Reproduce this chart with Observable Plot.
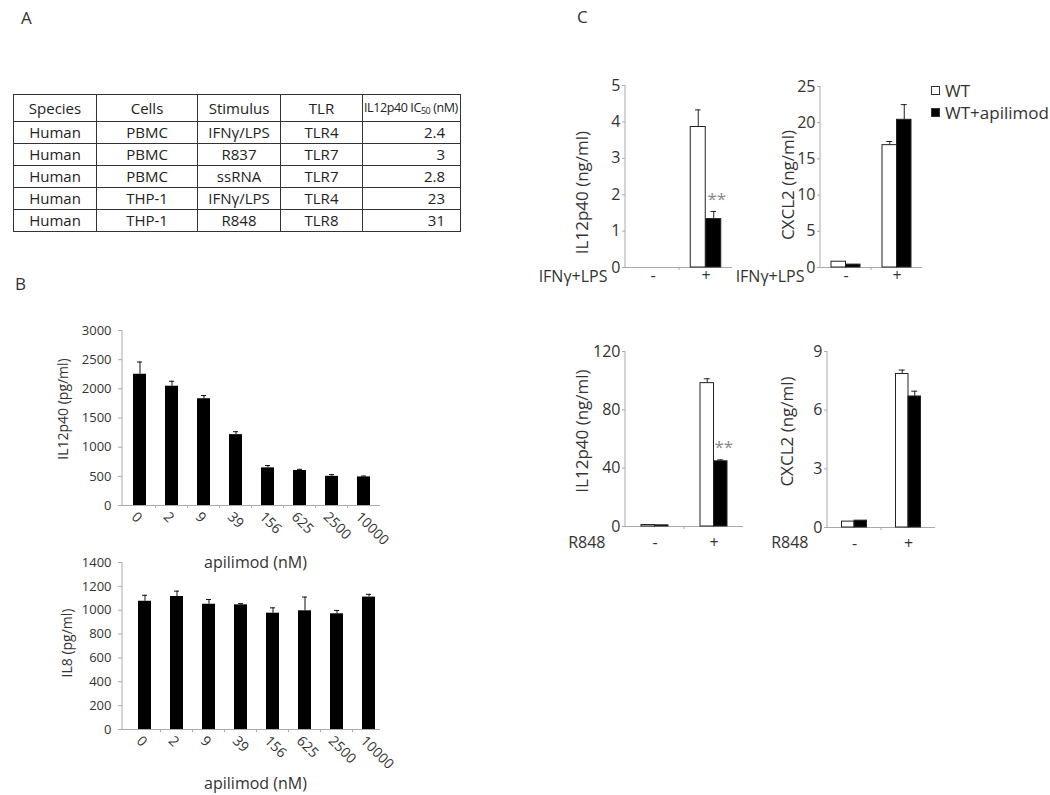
<!DOCTYPE html>
<html><head><meta charset="utf-8">
<script src="https://cdn.jsdelivr.net/npm/d3@7"></script>
<script src="https://cdn.jsdelivr.net/npm/@observablehq/plot@0.6"></script>
<style>
body{margin:0;background:#fff;}
#fig{position:relative;width:1050px;height:795px;font-family:"Open Sans",sans-serif;color:#333;overflow:hidden;background:#fff;}
.abs{position:absolute;}
.letter{font-size:17px;color:#333;line-height:1;}
#tbl{border-collapse:collapse;table-layout:fixed;font-size:15px;color:#222;}
#tbl td{border:1.5px solid #333;padding:0;text-align:center;line-height:1;white-space:nowrap;overflow:hidden;}
#tbl td.num{text-align:right;padding-right:15px;}
#tbl td.hdr{font-size:12.5px;letter-spacing:-0.4px;text-align:left;padding-left:1px;}
#tbl sub{font-size:9px;vertical-align:-2px;}
.leg{font-size:17px;color:#333;line-height:22px;white-space:nowrap;}
.sw{display:inline-block;width:7px;height:7px;border:1px solid #333;margin-right:5px;vertical-align:2px;}
</style></head><body><div id="fig"></div>
<script>
// ---------- Panel A table ----------
const tableHeader = ["Species", "Cells", "Stimulus", "TLR", "IL12p40 IC50 (nM)"];
const species = ["Human", "Human", "Human", "Human", "Human"];
const cells = ["PBMC", "PBMC", "PBMC", "THP-1", "THP-1"];
const stimulus = ["IFNγ/LPS", "R837", "ssRNA", "IFNγ/LPS", "R848"];
const tlr = ["TLR4", "TLR7", "TLR7", "TLR4", "TLR8"];
const ic50 = [2.4, 3, 2.8, 23, 31];

// ---------- Panel B ----------
const doses = ["0", "2", "9", "39", "156", "625", "2500", "10000"];
const il12Mean = [2250, 2045, 1830, 1215, 645, 600, 500, 490];
const il12Err = [210, 85, 55, 50, 40, 20, 30, 15];
const il8Mean = [1075, 1115, 1050, 1045, 975, 995, 970, 1110];
const il8Err = [50, 45, 40, 10, 45, 115, 28, 23];
const il12Ticks = [0, 500, 1000, 1500, 2000, 2500, 3000];
const il8Ticks = [0, 200, 400, 600, 800, 1000, 1200, 1400];
const doseTitle = "apilimod (nM)";

// ---------- Panel C ----------
const groups = ["-", "+"];
const series = ["WT", "WT+apilimod"];
// IFNγ+LPS — IL12p40 (ng/ml)
const lpsIl12WT = [0, 3.86], lpsIl12WTErr = [0, 0.47];
const lpsIl12Api = [0, 1.33], lpsIl12ApiErr = [0, 0.21];
const lpsIl12Sig = ["", "**"];
// IFNγ+LPS — CXCL2 (ng/ml)
const lpsCxWT = [0.8, 16.9], lpsCxWTErr = [0, 0.5];
const lpsCxApi = [0.4, 20.4], lpsCxApiErr = [0, 2.1];
const lpsCxSig = ["", ""];
// R848 — IL12p40 (ng/ml)
const rIl12WT = [1.0, 98.3], rIl12WTErr = [0, 3];
const rIl12Api = [0.8, 44.7], rIl12ApiErr = [0, 1];
const rIl12Sig = ["", "**"];
// R848 — CXCL2 (ng/ml)
const rCxWT = [0.3, 7.85], rCxWTErr = [0, 0.2];
const rCxApi = [0.35, 6.7], rCxApiErr = [0, 0.27];
const rCxSig = ["", ""];

const FONT = '"Open Sans", sans-serif';
const AXIS = "#aaa";
const NS = "http://www.w3.org/2000/svg";
const fmt = d => String(d);
const fig = document.getElementById("fig");

function place(node, left, top) {
  const d = document.createElement("div");
  d.className = "abs";
  d.style.left = left + "px";
  d.style.top = top + "px";
  d.appendChild(node);
  fig.appendChild(d);
  return d;
}

// panel letters
[["A", 21, 9], ["B", 15, 275], ["C", 577, 8]].forEach(([t, l, tp]) => {
  const s = document.createElement("div");
  s.className = "letter";
  s.textContent = t;
  place(s, l, tp);
});

// table
(function () {
  const t = document.createElement("table");
  t.id = "tbl";
  const widths = [83, 101, 83, 82, 98];
  const cg = document.createElement("colgroup");
  widths.forEach(w => { const c = document.createElement("col"); c.style.width = w + "px"; cg.appendChild(c); });
  t.appendChild(cg);
  t.style.width = widths.reduce((a, b) => a + b, 0) + "px";
  const hr = document.createElement("tr");
  hr.style.height = "27px";
  tableHeader.forEach((h, i) => {
    const td = document.createElement("td");
    td.innerHTML = h.replace("IC50", "IC<sub>50</sub>");
    if (i === 4) td.className = "hdr";
    hr.appendChild(td);
  });
  t.appendChild(hr);
  species.forEach((s, i) => {
    const tr = document.createElement("tr");
    tr.style.height = "22px";
    [s, cells[i], stimulus[i], tlr[i], String(ic50[i])].forEach((v, j) => {
      const td = document.createElement("td");
      td.textContent = v;
      if (j === 4) td.className = "num";
      tr.appendChild(td);
    });
    t.appendChild(tr);
  });
  place(t, 13, 94);
})();

// custom y-axis line
function yAxisLine(index, scales, values, dims) {
  const l = document.createElementNS(NS, "line");
  l.setAttribute("x1", dims.marginLeft);
  l.setAttribute("x2", dims.marginLeft);
  l.setAttribute("y1", dims.marginTop);
  l.setAttribute("y2", dims.height - dims.marginBottom);
  l.setAttribute("stroke", AXIS);
  return l;
}

// small tick marks on the x axis between bands
function xBoundaryTicks(index, scales, values, dims) {
  const g = document.createElementNS(NS, "g");
  try {
    const x = scales.x;
    const dom = x.domain();
    const bw = x.bandwidth();
    const y0 = dims.height - dims.marginBottom;
    for (let i = 1; i < dom.length; i++) {
      const xm = (x(dom[i - 1]) + x(dom[i])) / 2 + bw / 2;
      const l = document.createElementNS(NS, "line");
      l.setAttribute("x1", xm); l.setAttribute("x2", xm);
      l.setAttribute("y1", y0); l.setAttribute("y2", y0 + 3);
      l.setAttribute("stroke", AXIS);
      g.appendChild(l);
    }
  } catch (e) {}
  return g;
}

// ---------- dose-response charts ----------
function doseChart(o) {
  const data = doses.map((d, i) => ({dose: d, value: o.mean[i], err: o.err[i]}));
  return Plot.plot({
    width: 400, height: o.height,
    marginLeft: 122, marginRight: 20, marginTop: o.mT, marginBottom: o.mB,
    style: {fontFamily: FONT, fontSize: "13px", color: "#333", background: "transparent", overflow: "visible"},
    x: {type: "band", domain: doses, paddingInner: 0.6, paddingOuter: 0.3, align: o.align},
    y: {domain: [0, o.ticks[o.ticks.length - 1]]},
    marks: [
      yAxisLine,
      Plot.ruleY([0], {stroke: AXIS}),
      xBoundaryTicks,
      Plot.axisY({ticks: o.ticks, tickFormat: fmt, tickSize: 4, tickPadding: 7, stroke: AXIS, fill: "#333", label: null, fontSize: 13}),
      Plot.axisX({tickRotate: 45, tickSize: 0, tickPadding: 9, dx: -6, label: null, fill: "#333", fontSize: 14}),
      Plot.barY(data, {x: "dose", y: "value", fill: "#000"}),
      Plot.ruleX(data, {x: "dose", y1: "value", y2: d => d.value + d.err, stroke: "#111"}),
      Plot.tickY(data, {x: "dose", y: d => d.value + d.err, insetLeft: 4, insetRight: 4, stroke: "#111"}),
      Plot.text([o.yLabel], {text: d => d, frameAnchor: "left", textAnchor: "middle", lineAnchor: "middle", rotate: -90, dx: o.lDx, dy: o.lDy, fontSize: 14, fill: "#333"}),
      Plot.text([doseTitle], {text: d => d, frameAnchor: "bottom", textAnchor: "middle", lineAnchor: "middle", dy: o.tDy, dx: 4, fontSize: 16, fill: "#333"})
    ]
  });
}

place(doseChart({mean: il12Mean, err: il12Err, ticks: il12Ticks, yLabel: "IL12p40 (pg/ml)",
  height: 270, mT: 20, mB: 75, align: 0.5, lDx: -59, lDy: -9, tDy: 57}), 0, 310);
place(doseChart({mean: il8Mean, err: il8Err, ticks: il8Ticks, yLabel: "IL8 (pg/ml)",
  height: 255, mT: 22, mB: 66, align: 0.75, lDx: -55, lDy: -3, tDy: 54}), 0, 540);

// ---------- grouped charts ----------
function groupChart(o) {
  const bw = (o.width - o.mL - o.mR) / 2;
  const rows = [];
  groups.forEach((g, i) => {
    rows.push({group: g, s: 0, value: o.wt[i], err: o.wtErr[i], sig: ""});
    rows.push({group: g, s: 1, value: o.api[i], err: o.apiErr[i], sig: o.sig[i]});
  });
  const off = [-o.barW / 2, o.barW / 2];
  const marks = [yAxisLine, Plot.ruleY([0], {stroke: AXIS}), xBoundaryTicks];
  [0, 1].forEach(s => {
    const d = rows.filter(r => r.s === s);
    const e = d.filter(r => r.err > 0);
    marks.push(Plot.barY(d, {x: "group", y: "value", fill: s ? "#000" : "#fff", stroke: "#222", strokeWidth: 1,
      insetLeft: s ? bw / 2 : bw / 2 - o.barW, insetRight: s ? bw / 2 - o.barW : bw / 2}));
    marks.push(Plot.ruleX(e, {x: "group", y1: "value", y2: r => r.value + r.err, dx: off[s], stroke: "#222"}));
    marks.push(Plot.tickY(e, {x: "group", y: r => r.value + r.err, insetLeft: bw / 2 + off[s] - 3, insetRight: bw / 2 - off[s] - 3, stroke: "#222"}));
    marks.push(Plot.text(d.filter(r => r.sig), {x: "group", y: r => r.value + r.err, text: "sig", dx: off[s] + 3, dy: -12, fill: "#888", fontSize: 17}));
  });
  marks.push(
    Plot.axisY({ticks: o.ticks, tickFormat: fmt, tickSize: 3, tickPadding: 2, stroke: AXIS, fill: "#333", label: null, fontSize: 16}),
    Plot.axisX({tickSize: 0, tickPadding: o.gPad, label: null, fill: "#333", fontSize: 16}),
    Plot.text([o.yLabel], {text: d => d, frameAnchor: "left", textAnchor: "middle", lineAnchor: "middle", rotate: -90, dx: o.lDx, dy: o.lDy, fontSize: 17, fill: "#333"}),
    Plot.text([o.stim], {text: d => d, frameAnchor: "bottom-left", textAnchor: "end", lineAnchor: "middle", dx: o.sDx, dy: o.sDy, fontSize: 16, fill: "#333"})
  );
  return Plot.plot({
    width: o.width, height: o.height,
    marginLeft: o.mL, marginRight: o.mR, marginTop: o.mT, marginBottom: o.mB,
    style: {fontFamily: FONT, fontSize: "16px", color: "#333", background: "transparent", overflow: "visible"},
    x: {type: "band", domain: groups, paddingInner: 0, paddingOuter: 0},
    y: {domain: [0, o.ticks[o.ticks.length - 1]]},
    marks
  });
}

place(groupChart({wt: lpsIl12WT, wtErr: lpsIl12WTErr, api: lpsIl12Api, apiErr: lpsIl12ApiErr, sig: lpsIl12Sig,
  ticks: [0, 1, 2, 3, 4, 5], yLabel: "IL12p40 (ng/ml)", stim: "IFNγ+LPS",
  width: 230, height: 240, mL: 105, mR: 18, mT: 25, mB: 33, barW: 15.5, gPad: 2,
  lDx: -43, lDy: 16, sDx: -18, sDy: 9}), 520, 60);
place(groupChart({wt: lpsCxWT, wtErr: lpsCxWTErr, api: lpsCxApi, apiErr: lpsCxApiErr, sig: lpsCxSig,
  ticks: [0, 5, 10, 15, 20, 25], yLabel: "CXCL2 (ng/ml)", stim: "IFNγ+LPS",
  width: 230, height: 240, mL: 100, mR: 28, mT: 26, mB: 33, barW: 14.5, gPad: 2,
  lDx: -32, lDy: 8, sDx: -16, sDy: 9}), 720, 60);
place(groupChart({wt: rIl12WT, wtErr: rIl12WTErr, api: rIl12Api, apiErr: rIl12ApiErr, sig: rIl12Sig,
  ticks: [0, 40, 80, 120], yLabel: "IL12p40 (ng/ml)", stim: "R848",
  width: 240, height: 240, mL: 105, mR: 17, mT: 21, mB: 44, barW: 13.5, gPad: 10,
  lDx: -43, lDy: -8, sDx: -20, sDy: 16}), 520, 330);
place(groupChart({wt: rCxWT, wtErr: rCxWTErr, api: rCxApi, apiErr: rCxApiErr, sig: rCxSig,
  ticks: [0, 3, 6, 9], yLabel: "CXCL2 (ng/ml)", stim: "R848",
  width: 240, height: 240, mL: 107, mR: 25, mT: 21, mB: 43, barW: 12.5, gPad: 10,
  lDx: -40, lDy: -8, sDx: -19, sDy: 15}), 720, 330);

// legend
(function () {
  const lg = document.createElement("div");
  lg.className = "leg";
  series.forEach((s, i) => {
    const row = document.createElement("div");
    const sw = document.createElement("span");
    sw.className = "sw";
    sw.style.background = i ? "#000" : "#fff";
    row.appendChild(sw);
    row.appendChild(document.createTextNode(s));
    lg.appendChild(row);
  });
  place(lg, 931, 80);
})();
</script></body></html>
